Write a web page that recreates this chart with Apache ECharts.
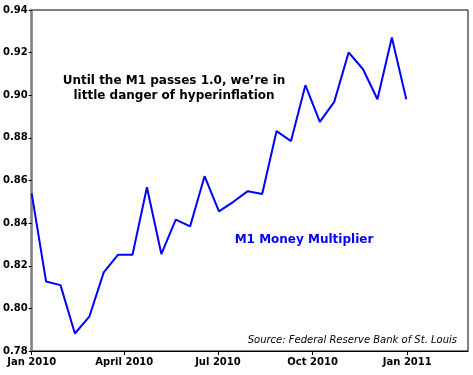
<!DOCTYPE html>
<html>
<head>
<meta charset="utf-8">
<script src="https://cdn.jsdelivr.net/npm/echarts@6/dist/echarts.min.js"></script>
<style>
html,body{margin:0;padding:0;background:#fff;}
#chart{width:473px;height:375px;}
</style>
</head>
<body>
<div id="chart"></div>
<script>
var dates = ['2010-01-01','2010-01-15','2010-01-29','2010-02-12','2010-02-26','2010-03-12','2010-03-26','2010-04-09','2010-04-23','2010-05-07','2010-05-21','2010-06-04','2010-06-18','2010-07-02','2010-07-16','2010-07-30','2010-08-13','2010-08-27','2010-09-10','2010-09-24','2010-10-08','2010-10-22','2010-11-05','2010-11-19','2010-12-03','2010-12-17','2010-12-31'];
var multiplier = [0.854,0.8126,0.8109,0.7882,0.7961,0.8169,0.8252,0.8252,0.8568,0.8255,0.8416,0.8385,0.862,0.8455,0.850,0.855,0.8537,0.8832,0.8785,0.9047,0.8875,0.8969,0.9201,0.9122,0.8981,0.9271,0.8981];
var tickDates = ['2010-01-01','2010-04-01','2010-07-01','2010-10-01','2011-01-01'];
var tickLabels = ['Jan 2010','April 2010','Jul 2010','Oct 2010','Jan 2011'];
var axisStart = '2010-01-01', axisEnd = '2011-03-01';
var yMin = 0.78, yMax = 0.94, yStep = 0.02;

var DAY = 86400000;
function dayNum(d){ return Math.round((new Date(d + 'T00:00:00Z').getTime() - new Date(axisStart + 'T00:00:00Z').getTime()) / DAY); }
var tickDays = tickDates.map(dayNum);
var chart = echarts.init(document.getElementById('chart'));
var font = 'DejaVu Sans, Verdana, sans-serif';
chart.setOption({
  animation: false,
  grid: {left: 31, top: 10, right: 5, bottom: 24, show: true, borderColor: '#000', borderWidth: 1, backgroundColor: '#fff'},
  xAxis: {
    type: 'value',
    min: 0,
    max: dayNum(axisEnd),
    axisLine: {lineStyle: {color: '#000', width: 1}},
    axisTick: {show: true, length: 4, customValues: tickDays, lineStyle: {color: '#000'}},
    axisLabel: {
      customValues: tickDays,
      color: '#000', fontFamily: font, fontWeight: 'bold', fontSize: 10, margin: 6,
      formatter: function (v) {
        var i = tickDays.indexOf(v);
        return i >= 0 ? tickLabels[i] : '';
      }
    },
    splitLine: {show: false}
  },
  yAxis: {
    type: 'value',
    min: yMin, max: yMax, interval: yStep,
    axisLine: {show: true, lineStyle: {color: '#808080', width: 2.5}},
    axisTick: {show: true, length: 3, lineStyle: {color: '#000'}},
    axisLabel: {color: '#000', fontFamily: font, fontWeight: 'bold', fontSize: 10, margin: 4,
      formatter: function (v) { return v.toFixed(2); }},
    splitLine: {show: false}
  },
  series: [{
    type: 'line',
    data: dates.map(function (d, i) { return [dayNum(d), multiplier[i]]; }),
    showSymbol: false,
    lineStyle: {color: '#0000ff', width: 2},
    itemStyle: {color: '#0000ff'}
  }],
  graphic: [
    {type: 'text', style: {
      text: 'Until the M1 passes 1.0, we’re in\nlittle danger of hyperinflation',
      x: 174, y: 73, align: 'center', lineHeight: 15,
      font: 'bold 12px ' + font, fill: '#000'}},
    {type: 'text', style: {text: 'M1 Money Multiplier', x: 304, y: 234, align: 'center',
      font: 'bold 12px ' + font, fill: '#0000ff'}},
    {type: 'text', style: {text: 'Source: Federal Reserve Bank of St. Louis', x: 457, y: 335, align: 'right',
      font: 'italic 10px ' + font, fill: '#000'}}
  ]
});
</script>
</body>
</html>
